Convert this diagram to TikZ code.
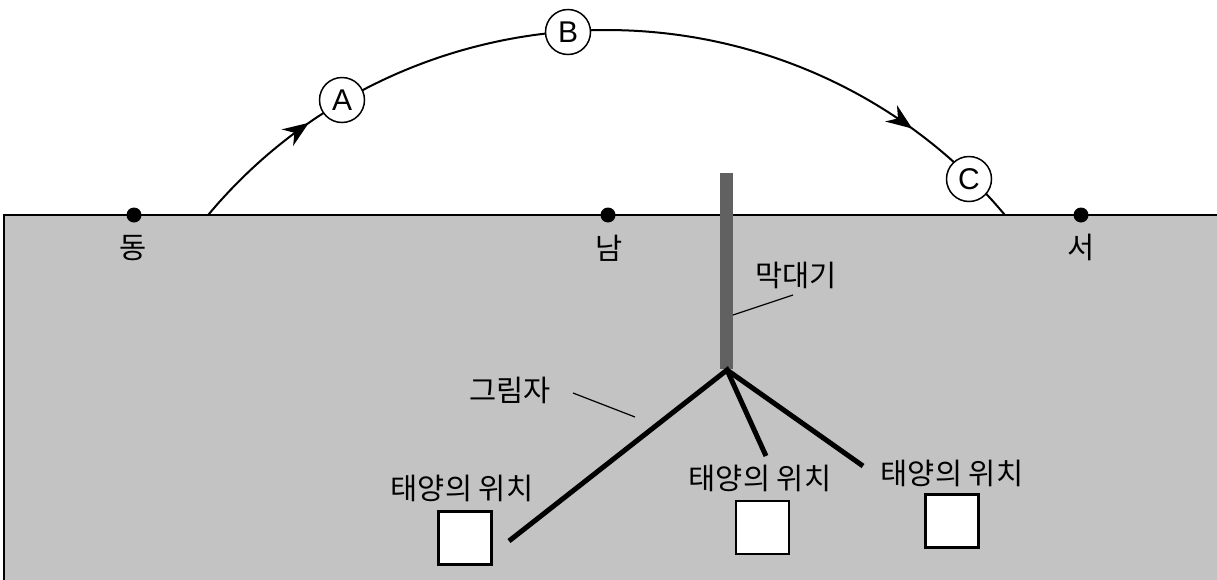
\documentclass[tikz,border=0pt]{standalone}
\usepackage{fontspec}
\setmainfont{Liberation Sans}
\newfontfamily\kr{Noto Sans CJK KR}
\usetikzlibrary{arrows.meta,decorations.markings}
\definecolor{groundgray}{HTML}{C3C3C3}
\definecolor{polegray}{HTML}{616161}
\begin{document}
\begin{tikzpicture}[x=1pt,y=-1pt,
  ground/.style={fill=groundgray,draw=black,line width=2pt},
  sunpath/.style={draw=black,line width=2pt,
    postaction={decorate},
    decoration={markings,
      mark=at position 0.151 with {\arrow{Stealth[length=26pt,width=20pt]}},
      mark=at position 0.860 with {\arrow{Stealth[length=26pt,width=20pt]}}}},
  sunmark/.style={circle,draw=black,fill=white,line width=1.5pt,minimum size=45pt,inner sep=0pt,font=\fontsize{30pt}{32pt}\selectfont},
  dotmark/.style={circle,fill=black,minimum size=15pt,inner sep=0pt},
  lab/.style={inner sep=0pt,font=\kr\fontsize{29.5pt}{32pt}\selectfont},
  polebox/.style={fill=polegray,inner sep=0pt,minimum width=13pt,minimum height=196pt},
  shadow/.style={draw=black,line width=5pt},
  leader/.style={draw=black,line width=1.2pt},
  sunbox/.style={draw=black,fill=white,line width=2.5pt,minimum size=53pt,inner sep=0pt}]
\useasboundingbox (0,0) rectangle (1217,579);
% ground
\draw[ground] (4,215) rectangle (1225,590);
% sun path
\coordinate (E0) at (208,215);
\coordinate (W0) at (1006,215);
\draw[sunpath] plot[domain=140.95:39.05,samples=160,variable=\t] ({606.5+513*cos(\t)},{530-500*sin(\t)});
\node[sunmark] (A) at (342,100) {A};
\node[sunmark] (B) at (568,32) {B};
\node[sunmark] (C) at (969,179) {C};
% pole
\node[polebox] (pole) at (726.5,271) {};
% direction dots
\node[dotmark] (east) at (134,215) {};
\node[dotmark] (south) at (608,215) {};
\node[dotmark] (west) at (1081,215) {};
\node[lab] (eastlab) at (133,248) {동};
\node[lab] (southlab) at (609,248) {남};
\node[lab] (westlab) at (1081,247) {서};
% stick label
\node[lab] (sticklab) at (796,275) {막대기};
\coordinate (stickfoot) at (733,315);
\coordinate (stickend) at (793,295);
\draw[leader] (stickfoot) -- (stickend);
% shadows
\coordinate (base) at (727,370);
\coordinate (S1) at (509,541);
\coordinate (S2) at (766,456);
\coordinate (S3) at (863,466);
\draw[shadow] (S1) -- (base) -- (S2);
\draw[shadow] (base) -- (S3);
\node[lab] (shadowlab) at (510,390) {그림자};
\coordinate (shA) at (573,393);
\coordinate (shB) at (635,417);
\draw[leader] (shA) -- (shB);
% sun position labels and boxes
\node[lab] (pos1) at (462,488) {태양의 위치};
\node[lab] (pos2) at (760,478) {태양의 위치};
\node[lab] (pos3) at (952,473) {태양의 위치};
\node[sunbox] (box1) at (465,538) {};
\node[sunbox] (box2) at (762.5,527.5) {};
\node[sunbox] (box3) at (952,521) {};
\end{tikzpicture}
\end{document}
